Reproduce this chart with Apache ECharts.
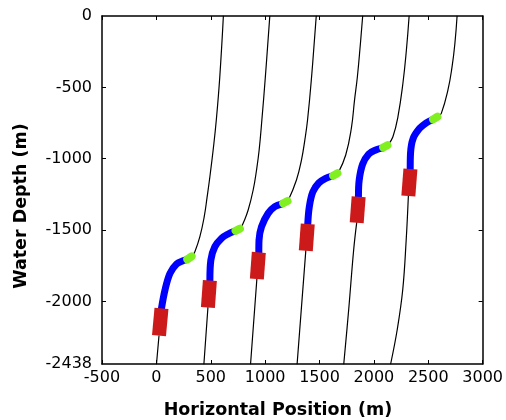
<!DOCTYPE html>
<html>
<head>
<meta charset="utf-8">
<script src="https://cdn.jsdelivr.net/npm/echarts@6/dist/echarts.min.js"></script>
<style>
html,body{margin:0;padding:0;background:#fff;}
#chart{width:506px;height:420px;}
</style>
</head>
<body>
<div id="chart"></div>
<script>
// Axis tick labels
const xTicks = [-500, 0, 500, 1000, 1500, 2000, 2500, 3000];
const yTickLabels = [0, -500, -1000, -1500, -2000, -2438];
const yTickMarks = [-500, -1000, -1500, -2000];
const xTitle = 'Horizontal Position (m)';
const yTitle = 'Water Depth (m)';

// Six risers: [horizontal position (m), water depth (m)]
// black riser from seabed to bottom of buoy
const lowerLine = [
  [[1,-2438],[24,-2240]],
  [[437,-2438],[474,-2042]],
  [[866,-2438],[924,-1843]],
  [[1294,-2438],[1374,-1644]],
  [[1723,-2438],[1768,-2060],[1814,-1639],[1842,-1448]],
  [[2154,-2438],[2214,-2200],[2265,-1920],[2297,-1569],[2317,-1261]]
];
// red buoy segment
const buoyLine = [
  [[24,-2240],[47,-2048]],
  [[474,-2042],[492,-1853]],
  [[924,-1843],[942,-1656]],
  [[1374,-1644],[1392,-1457]],
  [[1842,-1448],[1860,-1266]],
  [[2317,-1261],[2336,-1072]]
];
// blue thick segment
const blueLine = [
  [[47,-2048],[79,-1920],[125,-1803],[186,-1737],[247,-1714],[272,-1708]],
  [[492,-1853],[501,-1709],[538,-1616],[600,-1557],[660,-1527],[718,-1508]],
  [[942,-1656],[944,-1569],[967,-1476],[1028,-1382],[1089,-1336],[1156,-1316]],
  [[1392,-1457],[1406,-1338],[1438,-1233],[1493,-1170],[1557,-1138],[1615,-1122]],
  [[1858,-1266],[1865,-1149],[1897,-1037],[1952,-967],[2017,-939],[2075,-926]],
  [[2334,-1072],[2337,-960],[2361,-858],[2421,-787],[2482,-748],[2534,-728]]
];
// green segment
const greenLine = [
  [[284,-1705],[324,-1684]],
  [[728,-1505],[768,-1490]],
  [[1166,-1312],[1206,-1296]],
  [[1625,-1119],[1665,-1102]],
  [[2085,-922],[2125,-905]],
  [[2544,-724],[2584,-706]]
];
// black riser from green segment to the surface
const upperLine = [
  [[330,-1680],[354,-1651],[400,-1546],[440,-1406],[467,-1266],[492,-1126],[522,-939],[551,-729],[583,-427],[616,0]],
  [[775,-1487],[798,-1452],[844,-1359],[890,-1219],[921,-1079],[945,-939],[970,-729],[1002,-427],[1043,0]],
  [[1212,-1293],[1288,-1149],[1334,-1009],[1365,-869],[1390,-729],[1427,-427],[1470,0]],
  [[1672,-1099],[1741,-974],[1793,-785],[1822,-589],[1848,-427],[1875,-203],[1897,0]],
  [[2132,-901],[2175,-846],[2221,-706],[2267,-471],[2299,-238],[2324,0]],
  [[2592,-703],[2620,-682],[2681,-518],[2719,-355],[2745,-191],[2765,0]]
];

const chart = echarts.init(document.getElementById('chart'), null, {renderer:'canvas'});
const series = [];
function addLine(data, color, width, cap, smooth, z) {
  series.push({
    type: 'line', data: data, xAxisIndex: 0, yAxisIndex: 0,
    showSymbol: false, symbol: 'none', smooth: smooth, z: z,
    lineStyle: { color: color, width: width, cap: cap, join: 'round' },
    silent: true, animation: false
  });
}
for (let i = 0; i < 6; i++) {
  addLine(lowerLine[i], '#000000', 1.2, 'round', 0.4, 2);
  addLine(upperLine[i], '#000000', 1.2, 'round', 0.45, 2);
  addLine(blueLine[i], '#0000ff', 7, 'round', 0.35, 3);
  addLine(greenLine[i], '#80f020', 8, 'round', false, 4);
  addLine(buoyLine[i], '#cc1a1a', 14, 'butt', false, 5);
}

const axisColor = '#000';
const fmt = v => String(v);
const labelFont = {color:'#000', fontFamily:'DejaVu Sans', fontSize:16, formatter: fmt};
chart.setOption({
  backgroundColor: '#ffffff',
  animation: false,
  grid: {left:102, right:23, top:16, bottom:56, containLabel:false},
  xAxis: [
    {type:'value', position:'bottom', min:-500, max:3000, interval:500,
     axisLine:{show:true, onZero:false, lineStyle:{color:axisColor, width:1.5}},
     axisTick:{show:true, inside:true, length:4, lineStyle:{color:axisColor}, customValues: xTicks},
     axisLabel:Object.assign({margin:6, customValues: xTicks}, labelFont),
     splitLine:{show:false}},
    {type:'value', position:'top', min:-500, max:3000, interval:500,
     axisLine:{show:true, onZero:false, lineStyle:{color:axisColor, width:1.5}},
     axisTick:{show:true, inside:true, length:4, lineStyle:{color:axisColor}},
     axisLabel:{show:false}, splitLine:{show:false}}
  ],
  yAxis: [
    {type:'value', position:'left', min:-2438, max:0,
     axisLine:{show:true, onZero:false, lineStyle:{color:axisColor, width:1.5}},
     axisTick:{show:true, inside:true, length:4, lineStyle:{color:axisColor}, customValues: yTickMarks},
     axisLabel:Object.assign({margin:10, customValues: yTickLabels}, labelFont),
     splitLine:{show:false}},
    {type:'value', position:'right', min:-2438, max:0,
     axisLine:{show:true, onZero:false, lineStyle:{color:axisColor, width:1.5}},
     axisTick:{show:true, inside:true, length:4, lineStyle:{color:axisColor}, customValues: yTickMarks},
     axisLabel:{show:false}, splitLine:{show:false}}
  ],
  graphic: [
    {type:'text', x:278, y:410, style:{text:xTitle, font:'bold 17.5px "DejaVu Sans"', fill:'#000', align:'center', verticalAlign:'middle'}},
    {type:'text', x:21, y:206, rotation:Math.PI/2, style:{text:yTitle, font:'bold 17.5px "DejaVu Sans"', fill:'#000', align:'center', verticalAlign:'middle'}}
  ],
  series: series
});
</script>
</body>
</html>
